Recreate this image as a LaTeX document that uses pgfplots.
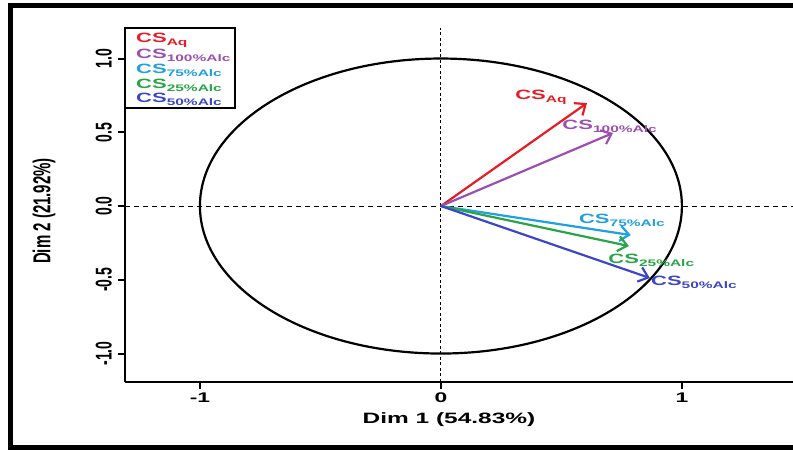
\documentclass[border=0pt]{standalone}
\usepackage{fontspec}
\setmainfont{Liberation Sans}[FakeStretch=1.63]
\newfontfamily\rotfont{Liberation Sans}
\usepackage{graphicx}
\usepackage{pgfplots}
\pgfplotsset{compat=1.18}
\usetikzlibrary{arrows.meta}
\definecolor{cRed}{RGB}{232,28,36}
\definecolor{cPurple}{RGB}{155,80,175}
\definecolor{cLBlue}{RGB}{30,160,225}
\definecolor{cGreen}{RGB}{40,165,70}
\definecolor{cBlue}{RGB}{60,70,200}
\newcommand\vt[1]{\scalebox{1}[1.63]{#1}}
\newcommand\cs[1]{{\bfseries\fontsize{13.5}{13.5}\selectfont CS}\raisebox{-3pt}{\bfseries\fontsize{9.5}{9.5}\selectfont #1}}
\begin{document}
\begin{tikzpicture}
\begin{axis}[
  width=668pt, height=354pt, scale only axis,
  xmin=-1.311, xmax=1.461, ymin=-1.193, ymax=1.207,
  axis x line=bottom, axis y line=left,
  axis line style={-, line width=2pt},
  xtick={-1,0,1}, xticklabels={-1,0,1},
  ytick={-1,-0.5,0,0.5,1},
  yticklabels={\vt{-1.0},\vt{-0.5},\vt{0.0},\vt{0.5},\vt{1.0}},
  tick align=outside, major tick length=7pt,
  tick style={line width=2pt, black},
  xticklabel style={font=\bfseries\fontsize{14}{14}\selectfont, anchor=north, inner sep=3.5pt},
  yticklabel style={font=\rotfont\bfseries\fontsize{14}{14}\selectfont, rotate=90, anchor=south, inner sep=6pt},
  xlabel={Dim 1 (54.83\%)},
  ylabel={\vt{Dim 2 (21.92\%)}},
  every axis x label/.style={at={(axis description cs:0.485,0)}, yshift=-38pt, anchor=center, font=\bfseries\fontsize{15}{15}\selectfont},
  every axis y label/.style={at={(axis description cs:0,0.483)}, xshift=-81pt, rotate=90, anchor=center, font=\rotfont\bfseries\fontsize{15}{15}\selectfont},
  clip=false,
]
\draw[black, line width=0.9pt, dash pattern=on 5pt off 4pt] (axis cs:-1.311,0) -- (axis cs:1.461,0);
\draw[black, line width=0.9pt, dash pattern=on 3pt off 2.5pt] (axis cs:0,-1.193) -- (axis cs:0,1.207);
\draw[black, line width=2.2pt] (axis cs:0,0) ellipse [x radius=1, y radius=1];

\addplot[cRed, line width=2.2pt, -{Straight Barb[length=9pt,width=15pt]}] coordinates {(0,0) (0.606,0.698)};
\addplot[cPurple, line width=2.2pt, -{Straight Barb[length=9pt,width=15pt]}] coordinates {(0,0) (0.714,0.495)};
\addplot[cLBlue, line width=2.2pt, -{Straight Barb[length=9pt,width=15pt]}] coordinates {(0,0) (0.788,-0.197)};
\addplot[cGreen, line width=2.2pt, -{Straight Barb[length=9pt,width=15pt]}] coordinates {(0,0) (0.780,-0.271)};
\addplot[cBlue, line width=2.2pt, -{Straight Barb[length=9pt,width=15pt]}] coordinates {(0,0) (0.867,-0.488)};

\node[cRed, inner sep=0pt] at (axis cs:0.415,0.735) {\cs{Aq}};
\node[cPurple, inner sep=0pt] at (axis cs:0.700,0.540) {\cs{100\%Alc}};
\node[cLBlue, inner sep=0pt] at (axis cs:0.751,-0.095) {\cs{75\%Alc}};
\node[cGreen, inner sep=0pt] at (axis cs:0.873,-0.366) {\cs{25\%Alc}};
\node[cBlue, inner sep=0pt] at (axis cs:1.050,-0.515) {\cs{50\%Alc}};
\end{axis}
% legend box
\draw[black, line width=2pt] (0pt,354pt) rectangle (110pt,274pt);
\node[cRed, anchor=west, inner sep=0pt] at (11pt,342pt) {\cs{Aq}};
\node[cPurple, anchor=west, inner sep=0pt] at (11pt,327pt) {\cs{100\%Alc}};
\node[cLBlue, anchor=west, inner sep=0pt] at (11pt,312pt) {\cs{75\%Alc}};
\node[cGreen, anchor=west, inner sep=0pt] at (11pt,297pt) {\cs{25\%Alc}};
\node[cBlue, anchor=west, inner sep=0pt] at (11pt,283pt) {\cs{50\%Alc}};
% outer frame
\draw[black, line width=5pt, line join=miter] (668pt,376.5pt) -- (-114.2pt,376.5pt) -- (-114.2pt,-65.5pt) -- (668pt,-65.5pt);
\pgfresetboundingbox
\useasboundingbox (-125pt,-68pt) rectangle (668pt,382pt);
\end{tikzpicture}
\end{document}
